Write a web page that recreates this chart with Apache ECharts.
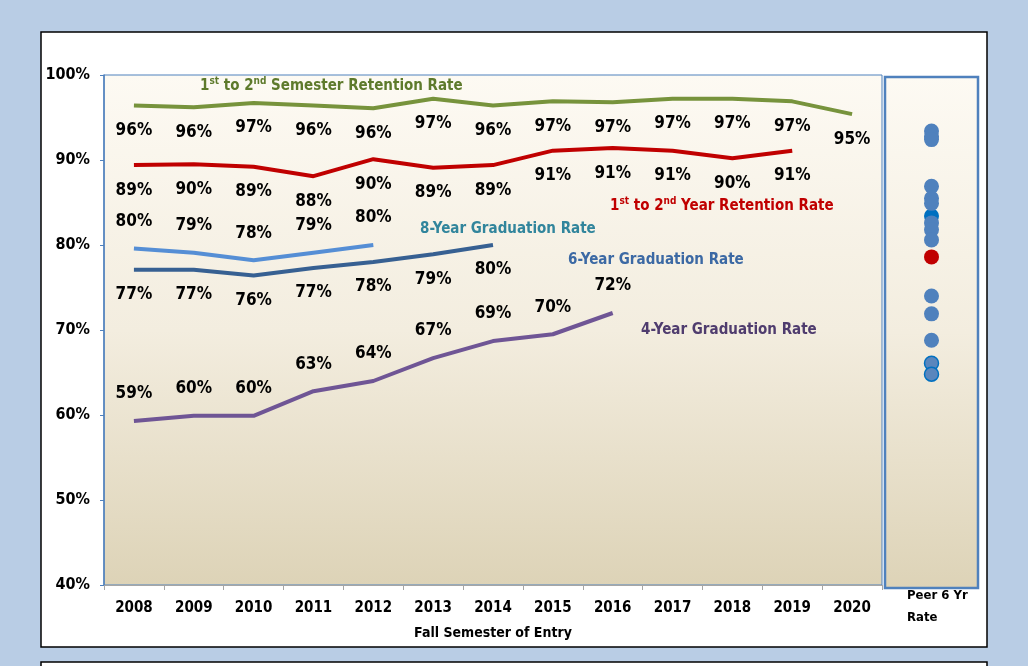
<!DOCTYPE html>
<html>
<head>
<meta charset="utf-8">
<script src="https://cdn.jsdelivr.net/npm/echarts@6/dist/echarts.min.js"></script>
<style>
  html, body { margin: 0; padding: 0; background: #b9cde5; }
  #chart { width: 1028px; height: 666px; }
</style>
</head>
<body>
<div id="chart"></div>
<script>
const years = ["2008", "2009", "2010", "2011", "2012", "2013", "2014", "2015", "2016", "2017", "2018", "2019", "2020"];
const semesterRetention = [96.4, 96.2, 96.7, 96.4, 96.1, 97.2, 96.4, 96.9, 96.8, 97.2, 97.2, 96.9, 95.4];
const yearRetention = [89.4, 89.5, 89.2, 88.1, 90.1, 89.1, 89.4, 91.1, 91.4, 91.1, 90.2, 91.1];
const grad8Year = [79.6, 79.1, 78.2, 79.1, 80.0];
const grad6Year = [77.1, 77.1, 76.4, 77.3, 78.0, 78.9, 80.0];
const grad4Year = [59.3, 59.9, 59.9, 62.8, 64.0, 66.7, 68.7, 69.5, 72.0];
const yTicks = [40, 50, 60, 70, 80, 90, 100];

// peer 6 year rates (right panel)
const peerRates = [93.4, 92.8, 92.4, 86.9, 85.5, 84.9, 82.6, 81.8, 80.6, 74.0, 71.9, 68.8];
const peerRatesDark = [83.4];
const peerRatesOutlined = [66.1, 64.8];
const ownRate = [78.6];

const FONT = '"Liberation Sans Narrow", "DejaVu Sans Condensed", sans-serif';

const bgGradient = () =>
  new echarts.graphic.LinearGradient(0, 0, 0, 1, [
    { offset: 0, color: "#fdfaf3" },
    { offset: 0.5, color: "#f3eddf" },
    { offset: 1, color: "#ddd3b7" },
  ]);

function lineSeries(name, data, color, pos) {
  return {
    name: name,
    type: "line",
    data: data,
    xAxisIndex: 0,
    yAxisIndex: 0,
    symbol: "circle",
    symbolSize: 1,
    showSymbol: true,
    itemStyle: { color: "transparent" },
    lineStyle: { color: color, width: 4 },
    label: {
      show: true,
      position: pos,
      distance: pos === "top" ? 18 : 16,
      formatter: (p) => Math.round(p.value) + "%",
      color: "#000",
      fontFamily: FONT,
      fontWeight: "bold",
      fontSize: 17,
    },
    emphasis: { disabled: true },
    z: 3,
  };
}

function legendText(left, top, color, rich) {
  return {
    type: "text",
    left: left,
    top: top,
    z: 10,
    style: {
      text: rich,
      fill: color,
      font: "bold 15px " + FONT,
      rich: {
        n: { fontSize: 15, fontWeight: "bold", fontFamily: FONT, fill: color },
        s: { fontSize: 10, fontWeight: "bold", fontFamily: FONT, fill: color, padding: [0, 0, 10, 0] },
      },
    },
  };
}

function peerSeries(data, size, style, z) {
  return {
    type: "scatter",
    xAxisIndex: 1,
    yAxisIndex: 1,
    symbolSize: size,
    data: data.map((v) => ["Peer", v]),
    itemStyle: Object.assign({ opacity: 1 }, style),
    emphasis: { disabled: true },
    z: z,
  };
}

const chart = echarts.init(document.getElementById("chart"));

const options = {
  backgroundColor: "#b9cde5",
  animation: false,
  grid: [
    {
      left: 104,
      top: 75,
      width: 778,
      height: 510,
      show: true,
      backgroundColor: bgGradient(),
      borderColor: "#4f81bd",
      borderWidth: 1,
    },
    { left: 885, top: 75, width: 93, height: 510, show: false },
  ],
  xAxis: [
    {
      gridIndex: 0,
      type: "category",
      data: years,
      boundaryGap: true,
      axisLine: { lineStyle: { color: "#a6a6a6", width: 1 } },
      axisTick: { show: true, length: 5, lineStyle: { color: "#a6a6a6" } },
      axisLabel: {
        margin: 16,
        color: "#000",
        fontFamily: FONT,
        fontWeight: "bold",
        fontSize: 15,
      },
      name: "Fall Semester of Entry",
      nameLocation: "middle",
      nameGap: 41,
      nameTextStyle: { color: "#000", fontFamily: FONT, fontWeight: "bold", fontSize: 14 },
    },
    {
      gridIndex: 1,
      type: "category",
      data: ["Peer"],
      show: false,
    },
  ],
  yAxis: [
    {
      gridIndex: 0,
      type: "value",
      min: 40,
      max: 100,
      interval: 10,
      axisLine: { show: true, lineStyle: { color: "#4f81bd", width: 1.5 } },
      axisTick: { show: true, length: 4, lineStyle: { color: "#4f81bd" } },
      splitLine: { show: false },
      axisLabel: {
        margin: 14,
        color: "#000",
        fontFamily: FONT,
        fontWeight: "bold",
        fontSize: 16,
        formatter: (v) => (yTicks.indexOf(v) >= 0 ? v + "%" : ""),
      },
    },
    { gridIndex: 1, type: "value", min: 40, max: 100, show: false },
  ],
  graphic: [
    // white card
    {
      type: "rect",
      shape: { x: 41, y: 32, width: 946, height: 615 },
      style: { fill: "#fff", stroke: "#000", lineWidth: 1.5 },
      z: -10,
    },
    {
      type: "rect",
      shape: { x: 41, y: 662, width: 946, height: 10 },
      style: { fill: "#fff", stroke: "#000", lineWidth: 1.5 },
      z: -10,
    },
    // peer panel
    {
      type: "rect",
      shape: { x: 885, y: 77, width: 93, height: 511 },
      style: { fill: bgGradient(), stroke: "#4f81bd", lineWidth: 2.5 },
      z: 0,
    },
    {
      type: "text",
      left: 907,
      top: 585,
      z: 10,
      style: {
        text: "Peer 6 Yr\nRate",
        fill: "#000",
        font: "bold 13px " + FONT,
        lineHeight: 22,
      },
    },
    legendText(200, 76, "#5e7a2c", "{n|1}{s|st}{n| to 2}{s|nd}{n| Semester Retention Rate}"),
    legendText(610, 196, "#c00000", "{n|1}{s|st}{n| to 2}{s|nd}{n| Year Retention Rate}"),
    legendText(420, 222, "#31859c", "{n|8-Year Graduation Rate}"),
    legendText(568, 253, "#3c69a4", "{n|6-Year Graduation Rate}"),
    legendText(641, 323, "#4f3c6e", "{n|4-Year Graduation Rate}"),
  ],
  series: [
    lineSeries("1st to 2nd Semester Retention Rate", semesterRetention, "#77933c", "bottom"),
    lineSeries("1st to 2nd Year Retention Rate", yearRetention, "#c00000", "bottom"),
    lineSeries("8-Year Graduation Rate", grad8Year, "#558ed5", "top"),
    lineSeries("6-Year Graduation Rate", grad6Year, "#376092", "bottom"),
    lineSeries("4-Year Graduation Rate", grad4Year, "#6f5595", "top"),
    peerSeries(peerRatesDark, 15, { color: "#0070c0" }, 4),
    peerSeries(peerRates, 15, { color: "#4f81bd" }, 5),
    peerSeries(peerRatesOutlined, 14, { color: "#5a86bd", borderColor: "#0070c0", borderWidth: 1.5 }, 5),
    peerSeries(ownRate, 15, { color: "#c00000" }, 6),
  ],
};

chart.setOption(options);
</script>
</body>
</html>
